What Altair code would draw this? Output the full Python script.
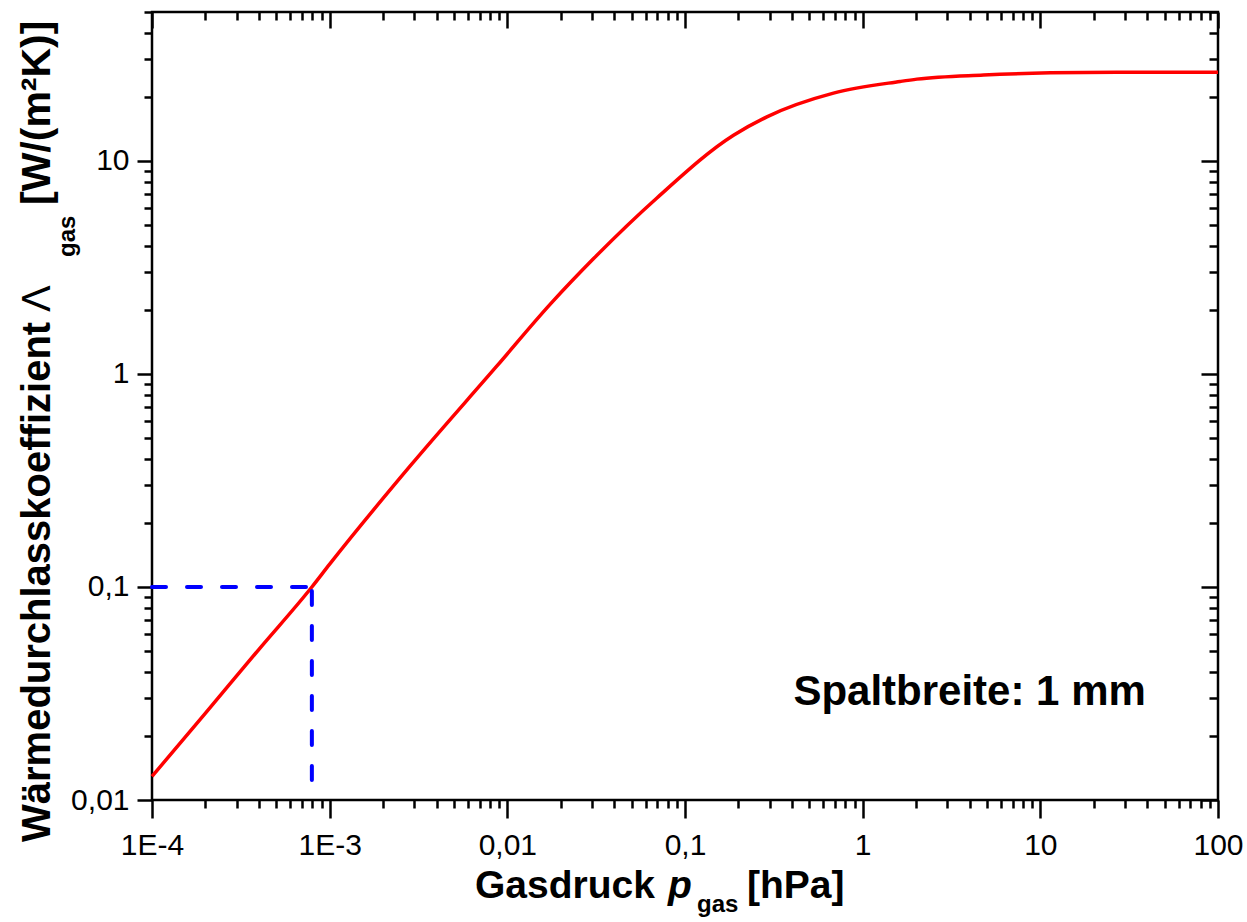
import altair as alt
import pandas as pd

# ---- data ----
p_gas = [1e-4, 2e-4, 4e-4, 7.94e-4, 1.0e-3, 2.84e-3, 8.74e-3, 0.0174, 0.0306,
         0.0695, 0.1875, 0.289, 0.685, 1.626, 2.02, 4.79, 11.4, 26.9, 100]
lam_gas = [0.0129, 0.0256, 0.051, 0.100, 0.128, 0.370, 1.09, 2.12, 3.48,
           6.70, 13.2, 16.1, 20.8, 23.6, 24.2, 25.3, 25.9, 26.1, 26.1]

# dashed guide: horizontal segment, then vertical segment (drawn bottom-up)
guide_p = [1e-4, 7.94e-4, 7.94e-4, 7.94e-4]
guide_lam = [0.1, 0.1, 0.0124, 0.1]
guide_seg = ["h", "h", "v", "v"]

x_major = [1e-4, 1e-3, 1e-2, 1e-1, 1, 10, 100]
x_major_labels = ["1E-4", "1E-3", "0,01", "0,1", "1", "10", "100"]
y_major = [0.01, 0.1, 1, 10]
y_major_labels = ["0,01", "0,1", "1", "10"]
x_minor = [m * 10.0 ** e for e in range(-4, 2) for m in range(2, 10)]
y_minor = [m * 10.0 ** e for e in range(-2, 2) for m in range(2, 10) if m * 10.0 ** e <= 50]

note_p = [4.0]
note_lam = [0.032]
note_text = ["Spaltbreite: 1 mm"]

curve = pd.DataFrame({"p": p_gas, "lam": lam_gas})
guide = pd.DataFrame({"p": guide_p, "lam": guide_lam, "seg": guide_seg,
                      "i": list(range(len(guide_p)))})
note = pd.DataFrame({"p": note_p, "lam": note_lam, "t": note_text})

W, H = 1066, 788
FONT = "Liberation Sans"

xs = alt.Scale(type="log", domain=[1e-4, 100], nice=False)
ys = alt.Scale(type="log", domain=[0.01, 50], nice=False)


def label_expr(vals, labels):
    expr = "''"
    for v, l in reversed(list(zip(vals, labels))):
        expr = f"abs(datum.value - {v!r}) < {v!r}*1e-6 ? '{l}' : ({expr})"
    return expr


base_ax = dict(domain=False, grid=False, tickColor="black", tickWidth=2.5,
               labelFont=FONT, labelFontSize=30, labelColor="black",
               labelFlush=False, labelOverlap=False)

# main line with labelled major axes (bottom / left)
line = alt.Chart(curve).mark_line(color="#ff0000", strokeWidth=3.5, interpolate="monotone").encode(
    x=alt.X("p:Q", scale=xs, title=None,
            axis=alt.Axis(orient="bottom", values=x_major, tickSize=18, labelPadding=12,
                          labelExpr=label_expr(x_major, x_major_labels), **base_ax)),
    y=alt.Y("lam:Q", scale=ys, title=None,
            axis=alt.Axis(orient="left", values=y_major, tickSize=15, labelPadding=8,
                          labelExpr=label_expr(y_major, y_major_labels), **base_ax)),
)

# dashed guide with minor ticks (bottom / left)
dash = alt.Chart(guide).mark_line(color="#0000ff", strokeWidth=4, strokeDash=[14, 21],
                                  strokeCap="round").encode(
    x=alt.X("p:Q", scale=xs, title=None,
            axis=alt.Axis(orient="bottom", values=x_minor, tickSize=8, labels=False, **base_ax)),
    y=alt.Y("lam:Q", scale=ys, title=None,
            axis=alt.Axis(orient="left", values=y_minor, tickSize=8, labels=False, **base_ax)),
    detail="seg:N",
    order="i:Q",
)

# top / right major ticks (pointing inward)
top_major = alt.Chart(curve).mark_point(opacity=0).encode(
    x=alt.X("p:Q", scale=xs, title=None,
            axis=alt.Axis(orient="bottom", offset=-H, values=x_major, tickSize=16, labels=False, **base_ax)),
    y=alt.Y("lam:Q", scale=ys, title=None,
            axis=alt.Axis(orient="left", offset=-W, values=y_major, tickSize=17, labels=False, **base_ax)),
)
top_minor = alt.Chart(curve).mark_point(opacity=0).encode(
    x=alt.X("p:Q", scale=xs, title=None,
            axis=alt.Axis(orient="bottom", offset=-H, values=x_minor, tickSize=8, labels=False, **base_ax)),
    y=alt.Y("lam:Q", scale=ys, title=None,
            axis=alt.Axis(orient="left", offset=-W, values=y_minor, tickSize=9, labels=False, **base_ax)),
)

annot = alt.Chart(note).mark_text(font=FONT, fontSize=42, fontWeight="bold", color="black",
                                  align="center", baseline="middle").encode(
    x=alt.X("p:Q", scale=xs, axis=None), y=alt.Y("lam:Q", scale=ys, axis=None), text="t:N")

one = alt.Data(values=[{}])


def txt(s, x, y, size=39, weight="bold", style="normal", angle=0, align="left"):
    kw = dict(font=FONT, fontSize=size, fontWeight=weight, fontStyle=style, color="black",
              align=align, baseline="alphabetic")
    if angle:
        kw["angle"] = angle
    return alt.Chart(one).mark_text(**kw).encode(
        x=alt.value(x), y=alt.value(y), text=alt.value(s))


# x-axis title: Gasdruck p_gas [hPa]
xt = [
    txt("Gasdruck", 323, 886),
    txt("p", 516, 886, style="italic"),
    txt("gas", 545, 900, size=24),
    txt("[hPa]", 595, 886),
]
# y-axis title: Wärmedurchlasskoeffizient Λ_gas [W/(m²K)]
yt = [
    txt("Wärmedurchlasskoeffizient", -102, 830, size=40, angle=270),
    txt("Λ", -102, 300, size=40, weight="normal", angle=270),
    txt("gas", -77, 245, size=24, angle=270),
    txt("[W/(m²K)]", -102, 193, size=41, angle=270),
]

chart = alt.layer(line, dash, top_major, top_minor, annot, *xt, *yt).resolve_axis(
    x="independent", y="independent"
).properties(
    width=W, height=H,
    autosize=alt.AutoSizeParams(type="none"),
    padding={"left": 152, "top": 12, "right": 29, "bottom": 122},
    background="white",
).configure_view(stroke="black", strokeWidth=2.5)

chart.save("out.html", embed_options={"renderer": "svg", "actions": False})
